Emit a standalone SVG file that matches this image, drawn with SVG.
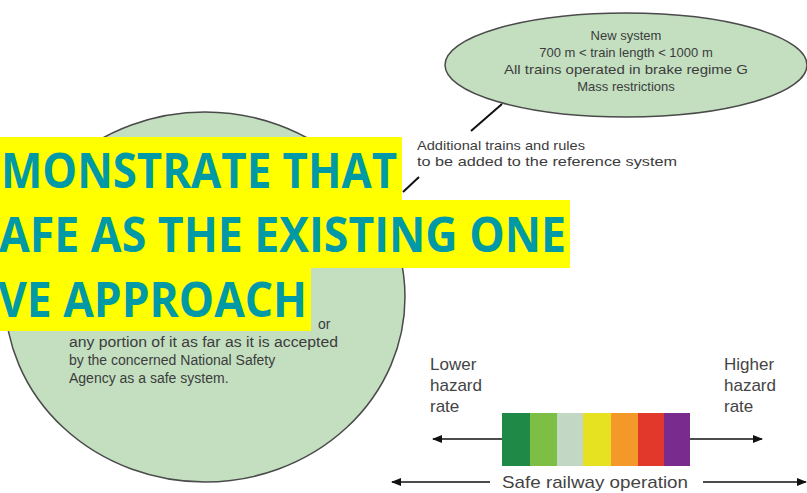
<svg xmlns="http://www.w3.org/2000/svg" width="807" height="493" viewBox="0 0 807 493">
<style>
.bubble{fill:#c3dfc0;stroke:#4a4a4a;stroke-width:1.5}
.small{font-family:"Liberation Sans",Arial,sans-serif;font-size:13px;fill:#3c3c3c}
.label{font-family:"Liberation Sans",Arial,sans-serif;font-size:17px;fill:#444}
.banner{fill:#ffff00}
.btext{font-family:"Open Sans","DejaVu Sans",sans-serif;font-weight:bold;font-size:49px;fill:#0099a6}
.conn{stroke:#111;stroke-width:2;fill:none}
.arr{stroke:#111;stroke-width:1.6;fill:none}
</style>
<defs>
<marker id="ah" markerWidth="10" markerHeight="8" refX="9" refY="4" orient="auto" markerUnits="userSpaceOnUse">
<path d="M0,0 L10,4 L0,8 Z" fill="#111"/>
</marker>
</defs>
<rect width="807" height="493" fill="#ffffff"/>

<g id="reference-system">
<ellipse class="bubble" cx="205" cy="297" rx="200" ry="185"/>
<text class="small" x="318" y="329" style="font-size:14px">or</text>
<text class="small" x="69" y="347" style="font-size:14px" textLength="269" lengthAdjust="spacingAndGlyphs">any portion of it as far as it is accepted</text>
<text class="small" x="69" y="365" style="font-size:14px">by the concerned National Safety</text>
<text class="small" x="69" y="383" style="font-size:14px">Agency as a safe system.</text>
</g>

<g id="new-system">
<ellipse class="bubble" cx="626" cy="65" rx="181" ry="52"/>
<text class="small" text-anchor="middle" x="626" y="40">New system</text>
<text class="small" text-anchor="middle" x="626" y="57">700 m &lt; train length &lt; 1000 m</text>
<text class="small" text-anchor="middle" x="626" y="74" textLength="244" lengthAdjust="spacingAndGlyphs">All trains operated in brake regime G</text>
<text class="small" text-anchor="middle" x="626" y="91">Mass restrictions</text>
</g>

<g id="connectors">
<line class="conn" x1="502" y1="104" x2="471" y2="131"/>
<line class="conn" x1="419" y1="177" x2="403" y2="192"/>
<line class="arr" x1="502" y1="439" x2="433" y2="439" marker-end="url(#ah)"/>
<line class="arr" x1="690" y1="439" x2="762" y2="439" marker-end="url(#ah)"/>
<line class="arr" x1="490" y1="482" x2="392" y2="482" marker-end="url(#ah)"/>
<line class="arr" x1="703" y1="482" x2="806" y2="482" marker-end="url(#ah)"/>
</g>

<g id="additional-note">
<text class="small" x="417" y="150" textLength="168" lengthAdjust="spacingAndGlyphs">Additional trains and rules</text>
<text class="small" x="417" y="166" textLength="260" lengthAdjust="spacingAndGlyphs">to be added to the reference system</text>
</g>

<g id="hazard-scale">
<rect x="502" y="413" width="28" height="53" fill="#1f8a47"/>
<rect x="530" y="413" width="27" height="53" fill="#7dbf45"/>
<rect x="557" y="413" width="26" height="53" fill="#c3d8c4"/>
<rect x="583" y="413" width="28" height="53" fill="#e6e222"/>
<rect x="611" y="413" width="27" height="53" fill="#f4982a"/>
<rect x="638" y="413" width="26" height="53" fill="#e2372b"/>
<rect x="664" y="413" width="26" height="53" fill="#7a2c8e"/>
</g>

<g id="lower-label">
<text class="label" x="430" y="370">Lower</text>
<text class="label" x="430" y="391">hazard</text>
<text class="label" x="430" y="412">rate</text>
</g>
<g id="higher-label">
<text class="label" x="724" y="370">Higher</text>
<text class="label" x="724" y="391">hazard</text>
<text class="label" x="724" y="412">rate</text>
</g>
<g id="safe-operation">
<text class="label" x="502" y="488" textLength="186" lengthAdjust="spacingAndGlyphs">Safe railway operation</text>
</g>

<g id="banner">
<rect class="banner" x="0" y="137" width="402" height="64"/>
<rect class="banner" x="0" y="200" width="570" height="68"/>
<rect class="banner" x="0" y="267" width="311" height="64"/>
<text class="btext" x="1" y="188" textLength="396" lengthAdjust="spacingAndGlyphs">MONSTRATE THAT</text>
<text class="btext" x="-1" y="252" textLength="567" lengthAdjust="spacingAndGlyphs">AFE AS THE EXISTING ONE</text>
<text class="btext" x="-2" y="317" textLength="309" lengthAdjust="spacingAndGlyphs">VE APPROACH</text>
</g>
</svg>
